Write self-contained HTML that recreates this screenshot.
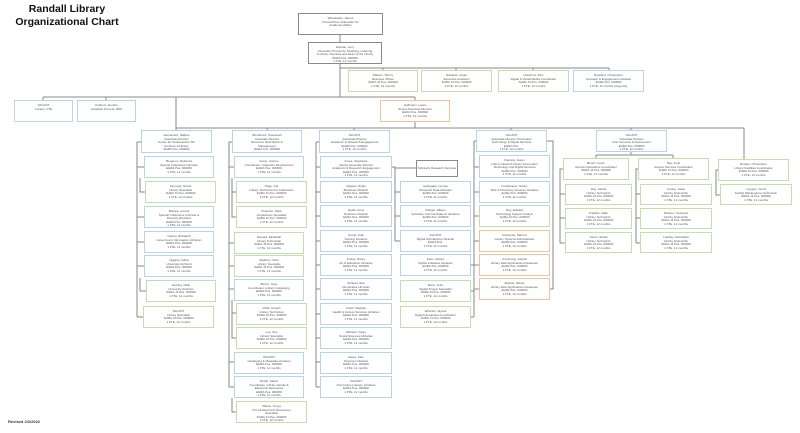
<!DOCTYPE html>
<html><head><meta charset="utf-8"><style>
body{margin:0;width:800px;height:433px;background:#fff;position:relative;overflow:hidden;font-family:"Liberation Sans",sans-serif}
.t{position:absolute;left:-13px;width:160px;text-align:center;font-weight:bold;font-size:10.5px;line-height:12px;color:#111;white-space:nowrap}
.b{position:absolute;box-sizing:border-box;border:1.5px solid #b9d3ee;background:#fff;text-align:center;font-size:3px;line-height:3.6px;color:#555;padding-top:3px;overflow:hidden}
.g{border-color:#c4dfae}.o{border-color:#f6c09c}.k{border-color:#8a8a8a;border-width:1px}
svg{position:absolute;left:0;top:0}
</style></head><body>
<div class="t" style="top:3px">Randall Library</div>
<div class="t" style="top:16px">Organizational Chart</div>
<div style="position:absolute;left:8px;top:419px;font-size:4px;color:#333;font-weight:bold">Revised 2/2/2022</div>
<svg width="800" height="433" stroke="#888" stroke-width="1" fill="none">
<path d="M340 35V42M340 64V97M340 68H609M383 68V70M456 68V70M533 68V70M609 68V70"/>
<path d="M43 97H415M43 97V100M106 97V100M415 97V100M176 97V130M415 122V128M176 128H744M267 128V130M354 128V130M511 128V130M631 128V130M744 128V159"/>
<path d="M137 142V317M137 142H141M137 167H144M140 178V192H145M137 217H144M137 242H144M137 266H144M140 278V291H146M137 317H143"/>
<path d="M229 142V387M229 142H232M229 167H234M232 178V217H236M232 192H236M229 243H234M229 266H234M229 289H234M232 300V338H236M232 313H236M229 362H234M229 387H234M232 398V412H236"/>
<path d="M316 142V387M316 142H319M316 167H320M316 192H320M316 216H320M316 241H320M316 265H320M316 289H320M316 314H320M316 338H320M316 362H320M316 387H320"/>
<path d="M392 167H395V241M395 168H416M395 192H400M395 216H400M395 241H400"/>
<path d="M474 141V317M474 141H476M474 167H479M474 192H479M474 216H479M474 241H479M474 265H479M474 289H479M470 265H474M470 291H474M470 317H474M547 141H553V289H550"/>
<path d="M631 152V155M596 155H673M596 155V158M673 155V158M563 169H560V243M560 194H565M560 218H565M560 243H565M638 169H636V243M636 194H640M636 218H640M636 243H640M718 170H716V195H720"/>
</svg>
<div class="b k" style="left:298px;top:13px;width:85px;height:22px">Wheelahan, James<br>Provost/Vice Chancellor for<br>Academic Affairs</div>
<div class="b k" style="left:308px;top:42px;width:74px;height:22px">Holman, Lucy<br>Associate Provost for Teaching, Learning<br>&amp; Library Services and Dean of the Library<br>SHRA Pos. 000000<br>1 FTE, 12 months</div>
<div class="b g" style="left:348px;top:70px;width:70px;height:22px">Watson, Sherry<br>Business Officer<br>SHRA J3 Pos. 000000<br>1 FTE, 12 months</div>
<div class="b g" style="left:421px;top:70px;width:71px;height:22px">Edwards, Angie<br>Executive Assistant<br>SHRA J4 Pos. 000000<br>1 FTE, 12 months</div>
<div class="b g" style="left:498px;top:70px;width:71px;height:22px">Crawford, John<br>Digital &amp; Visual Media Coordinator<br>SHRA J4 Pos. 000000<br>1 FTE, 12 months</div>
<div class="b" style="left:573px;top:70px;width:71px;height:22px">Rowland, Christopher<br>Outreach &amp; Engagement Librarian<br>EHRA Pos. 000000<br>1 FTE, 11 months (Aug-Jun)</div>
<div class="b" style="left:14px;top:100px;width:59px;height:22px">VACANT<br>Curator, CTE</div>
<div class="b" style="left:77px;top:100px;width:59px;height:22px">Ostlund, Jennifer<br>Assistant Provost, DEA</div>
<div class="b o" style="left:380px;top:100px;width:70px;height:22px">Hoffmann, Laura<br>Senior Associate Director<br>EHRA Pos. 000000<br>1 FTE, 12 months</div>

<div class="b" style="left:141px;top:130px;width:71px;height:23px">Hernandez, Nathan<br>Associate Director<br>Center for Southeastern NC<br>Archives &amp; History<br>EHRA Pos. 000000<br>1 FTE, 12 months</div>
<div class="b" style="left:232px;top:130px;width:70px;height:23px">Bondurant, Susannah<br>Associate Director<br>Resource Description &amp;<br>Management<br>EHRA Pos. 000000<br>1 FTE, 12 months</div>
<div class="b" style="left:319px;top:130px;width:71px;height:23px">VACANT<br>Associate Director<br>Academic &amp; Research Engagement<br>EHRA Pos. 000000<br>1 FTE, 12 months</div>
<div class="b" style="left:476px;top:130px;width:71px;height:22px">VACANT<br>Associate Director Information<br>Technology &amp; Digital Services<br>EHRA Pos.<br>1 FTE, 12 months</div>
<div class="b" style="left:596px;top:130px;width:71px;height:22px">VACANT<br>Associate Director<br>User Services &amp; Assessment<br>EHRA Pos. 000000<br>1 FTE, 12 months</div>

<div class="b" style="left:144px;top:156px;width:70px;height:22px">Bergeron, Rebecca<br>Special Collections Librarian<br>EHRA Pos. 000000<br>1 FTE, 11 months</div>
<div class="b g" style="left:145px;top:181px;width:71px;height:22px">Kennedy, Nicole<br>Library Specialist<br>SHRA J3 Pos. 000000<br>1 FTE, 12 months</div>
<div class="b" style="left:144px;top:206px;width:70px;height:22px">Bethea, Lenora<br>Special Collections Archivist &amp;<br>Diversity Resident<br>EHRA Pos. 000000<br>1 FTE, 11 months</div>
<div class="b" style="left:144px;top:231px;width:70px;height:22px">Garner, Elizabeth<br>Government Information Librarian<br>EHRA Pos. 000000<br>1 FTE, 11 months</div>
<div class="b" style="left:144px;top:255px;width:70px;height:22px">Higgins, Adina<br>University Archivist<br>EHRA Pos. 000000<br>1 FTE, 11 months</div>
<div class="b g" style="left:146px;top:280px;width:70px;height:22px">Herring, Nikki<br>University Archives<br>SHRA J3 Pos. 000000<br>1 FTE, 12 months</div>
<div class="b g" style="left:143px;top:306px;width:71px;height:22px">VACANT<br>Library Specialist<br>SHRA J3 Pos. 000000<br>1 FTE, 12 months</div>

<div class="b" style="left:234px;top:156px;width:70px;height:22px">Cross, Jeanne<br>Coordinator, Collection Development<br>EHRA Pos. 000000<br>1 FTE, 11 months</div>
<div class="b g" style="left:236px;top:181px;width:71px;height:22px">Page, Kat<br>Library Technician for Collections<br>SHRA J3 Pos. 000000<br>1 FTE, 12 months</div>
<div class="b g" style="left:236px;top:206px;width:71px;height:22px">Peterson, Mark<br>Acquisitions Specialist<br>SHRA J3 Pos. 000000<br>1 FTE, 12 months</div>
<div class="b g" style="left:234px;top:232px;width:70px;height:22px">Howard, Elizabeth<br>Library Technician<br>SHRA J3 Pos. 000000<br>1 FTE, 12 months</div>
<div class="b g" style="left:234px;top:255px;width:70px;height:22px">Watkins, Chris<br>Library Specialist<br>SHRA J3 Pos. 000000<br>1 FTE, 12 months</div>
<div class="b" style="left:234px;top:279px;width:70px;height:22px">Bloom, Gary<br>Coordinator, Library Cataloging<br>EHRA Pos. 000000<br>1 FTE, 11 months</div>
<div class="b g" style="left:236px;top:303px;width:71px;height:22px">Child, Joseph<br>Library Technician<br>SHRA J3 Pos. 000000<br>1 FTE, 12 months</div>
<div class="b g" style="left:236px;top:327px;width:71px;height:22px">Lee, Sue<br>Library Specialist<br>SHRA J3 Pos. 000000<br>1 FTE, 12 months</div>
<div class="b" style="left:234px;top:352px;width:70px;height:22px">VACANT<br>Cataloging &amp; Metadata Librarian<br>EHRA Pos. 000000<br>1 FTE, 11 months</div>
<div class="b" style="left:234px;top:376px;width:70px;height:22px">Booth, Sarah<br>Coordinator, Library Serials &amp;<br>Electronic Resources<br>EHRA Pos. 000000<br>1 FTE, 11 months</div>
<div class="b g" style="left:236px;top:401px;width:71px;height:22px">Wilson, Tonya<br>Print &amp; Electronic Resources<br>Specialist<br>SHRA J3 Pos. 000000<br>1 FTE, 12 months</div>

<div class="b" style="left:320px;top:156px;width:72px;height:22px">Cruse, Stephanie<br>Interim Associate Director<br>Academic &amp; Research Engagement<br>EHRA Pos. 000000<br>1 FTE, 11 months</div>
<div class="b" style="left:320px;top:181px;width:72px;height:22px">Clapper, Dylan<br>Business Librarian<br>EHRA Pos. 000000<br>1 FTE, 11 months</div>
<div class="b" style="left:320px;top:205px;width:72px;height:22px">Fields, Anne<br>Sciences Librarian<br>EHRA Pos. 000000<br>1 FTE, 11 months</div>
<div class="b" style="left:320px;top:230px;width:72px;height:22px">Gould, Julie<br>Nursing Librarian<br>EHRA Pos. 000000<br>1 FTE, 11 months</div>
<div class="b" style="left:320px;top:254px;width:72px;height:22px">Tucker, Nancy<br>Art &amp; Education Librarian<br>EHRA Pos. 000000<br>1 FTE, 11 months</div>
<div class="b" style="left:320px;top:278px;width:72px;height:22px">Schiess, Eva<br>Humanities Librarian<br>EHRA Pos. 000000<br>1 FTE, 11 months</div>
<div class="b" style="left:320px;top:303px;width:72px;height:22px">Smith, Meghan<br>Health &amp; Human Services Librarian<br>EHRA Pos. 000000<br>1 FTE, 11 months</div>
<div class="b" style="left:320px;top:327px;width:72px;height:22px">Webster, Katey<br>Social Sciences Librarian<br>EHRA Pos. 000000<br>1 FTE, 11 months</div>
<div class="b" style="left:320px;top:352px;width:72px;height:22px">Gates, Sam<br>Sciences Librarian<br>EHRA Pos. 000000<br>1 FTE, 11 months</div>
<div class="b" style="left:320px;top:376px;width:72px;height:22px">VACANT<br>Information Literacy Librarian<br>EHRA Pos. 000000<br>1 FTE, 11 months</div>

<div class="b k" style="left:416px;top:160px;width:42px;height:17px;padding-top:6px">Scholarly Research Services</div>
<div class="b" style="left:400px;top:181px;width:71px;height:22px">Applegate, Lynnee<br>Research Data Librarian<br>EHRA Pos. 000000<br>1 FTE, 11 months</div>
<div class="b" style="left:400px;top:205px;width:71px;height:22px">Kilinger, Allison<br>Scholarly Communications Librarian<br>EHRA Pos. 000000<br>1 FTE, 11 months</div>
<div class="b" style="left:400px;top:230px;width:71px;height:22px">VACANT<br>Digital Scholarship Librarian<br>EHRA Pos.<br>1 FTE, 11 months</div>
<div class="b" style="left:400px;top:254px;width:71px;height:22px">Enos, Ashley<br>Digital Initiatives Librarian<br>EHRA Pos. 000000<br>1 FTE, 11 months</div>
<div class="b g" style="left:400px;top:280px;width:71px;height:22px">Bono, John<br>Digital Project Specialist<br>SHRA J3 Pos. 000000<br>1 FTE, 12 months</div>
<div class="b g" style="left:400px;top:306px;width:71px;height:22px">Wharton, Alyssa<br>Digital Humanities Coordinator<br>SHRA J4 Pos. 000000<br>1 FTE, 12 months</div>

<div class="b" style="left:479px;top:155px;width:71px;height:23px">Fleming, Jason<br>Interim Head of Library Information<br>Technology and Digital Services<br>EHRA Pos. 000000<br>1 FTE, 11 months</div>
<div class="b" style="left:479px;top:181px;width:71px;height:22px">Frankhouse, Nancy<br>Web &amp; Discovery Services Librarian<br>EHRA Pos. 000000<br>1 FTE, 11 months</div>
<div class="b g" style="left:479px;top:205px;width:71px;height:22px">Roy, Edward<br>Technology Support Analyst<br>SHRA J3 Pos. 000000<br>1 FTE, 12 months</div>
<div class="b o" style="left:479px;top:230px;width:71px;height:22px">Carpenter, Marcus<br>Library Systems Administrator<br>EHRA Pos. 000000<br>1 FTE, 12 months</div>
<div class="b o" style="left:479px;top:254px;width:71px;height:22px">Armstrong, Garrett<br>Library Web Applications Developer<br>EHRA Pos. 000000<br>1 FTE, 12 months</div>
<div class="b o" style="left:479px;top:278px;width:71px;height:22px">Mackie, Daniel<br>Library Web Applications Developer<br>EHRA Pos. 000000<br>1 FTE, 12 months</div>

<div class="b g" style="left:563px;top:158px;width:66px;height:22px">Brown, Kevin<br>Access Operations Coordinator<br>SHRA J4 Pos. 000000<br>1 FTE, 12 months</div>
<div class="b g" style="left:638px;top:158px;width:71px;height:22px">Ray, Amie<br>Access Services Coordinator<br>SHRA J4 Pos. 000000<br>1 FTE, 12 months</div>
<div class="b g" style="left:565px;top:184px;width:67px;height:21px">Day, Sasha<br>Library Technician<br>SHRA J3 Pos. 000000<br>1 FTE, 12 months</div>
<div class="b g" style="left:565px;top:208px;width:67px;height:21px">Franklin, Mark<br>Library Technician<br>SHRA J3 Pos. 000000<br>1 FTE, 12 months</div>
<div class="b g" style="left:565px;top:232px;width:67px;height:21px">Gavin, Sheila<br>Library Technician<br>SHRA J3 Pos. 000000<br>1 FTE, 12 months</div>
<div class="b g" style="left:640px;top:184px;width:72px;height:21px">Cooley, Janet<br>Library Technician<br>SHRA J3 Pos. 000000<br>1 FTE, 12 months</div>
<div class="b g" style="left:640px;top:208px;width:72px;height:21px">Dickson, Suzanne<br>Library Technician<br>SHRA J3 Pos. 000000<br>1 FTE, 12 months</div>
<div class="b g" style="left:640px;top:232px;width:72px;height:21px">Lashley, Samantha<br>Library Technician<br>SHRA J3 Pos. 000000<br>1 FTE, 12 months</div>
<div class="b g" style="left:718px;top:159px;width:71px;height:22px">Rowles, Christopher<br>Library Facilities Coordinator<br>SHRA J4 Pos. 000000<br>1 FTE, 12 months</div>
<div class="b g" style="left:720px;top:184px;width:72px;height:21px">Longino, Jerod<br>Facility Maintenance Technician<br>SHRA J3 Pos. 000000<br>1 FTE, 12 months</div>
</body></html>
